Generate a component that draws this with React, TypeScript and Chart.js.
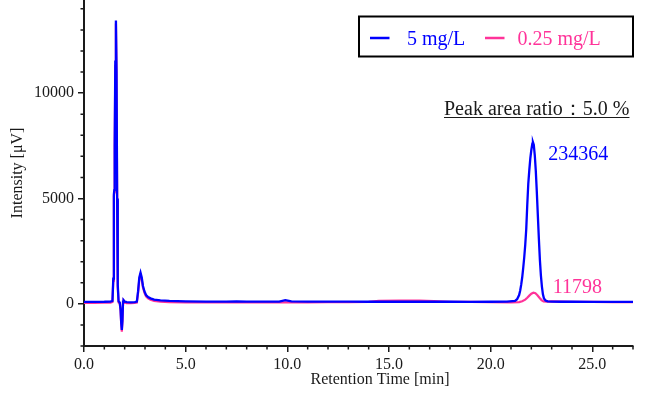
import React, { useEffect, useRef } from "react";
import { Chart, registerables } from "chart.js";

Chart.register(...registerables);

// ---- Data ----
const blueTimes = [0, 0.5, 1.0, 1.3, 1.40, 1.44, 1.47, 1.49, 1.51, 1.54, 1.57, 1.60, 1.63, 1.66, 1.70, 1.76, 1.80, 1.83, 1.86, 1.89, 1.92, 1.95, 2.00, 2.10, 2.30, 2.50, 2.60, 2.66, 2.72, 2.78, 2.84, 2.90, 2.97, 3.05, 3.15, 3.27, 3.45, 3.76, 4.2, 5.0, 6.0, 7.0, 7.5, 8.0, 9.0, 9.6, 9.9, 10.2, 11.0, 12.0, 13.0, 14.0, 15.0, 16.0, 17.0, 18.0, 19.0, 20.0, 20.8, 21.2, 21.3, 21.4, 21.45, 21.5, 21.55, 21.6, 21.65, 21.7, 21.75, 21.8, 21.85, 21.9, 21.95, 22.0, 22.05, 22.08, 22.12, 22.17, 22.22, 22.27, 22.32, 22.37, 22.42, 22.47, 22.52, 22.57, 22.62, 22.7, 22.8, 23.0, 23.5, 24.0, 25.0, 26.0, 27.0];
const blueValues = [90, 95, 100, 110, 140, 1200, 5200, 5400, 7500, 11500, 13450, 11000, 5000, 900, 120, 60, -300, -900, -1240, -800, 100, 170, 110, 80, 70, 85, 110, 600, 1250, 1480, 1250, 850, 600, 420, 320, 260, 200, 170, 140, 120, 110, 110, 120, 110, 105, 110, 180, 120, 110, 105, 105, 100, 100, 100, 100, 100, 95, 100, 105, 140, 220, 420, 620, 900, 1250, 1700, 2200, 2800, 3550, 4700, 5700, 6350, 6900, 7300, 7600, 7670, 7550, 7050, 6300, 5300, 4200, 3100, 2100, 1350, 820, 450, 260, 160, 120, 105, 100, 100, 95, 95, 90];

const pinkTimes = [0, 0.5, 1.0, 1.3, 1.40, 1.44, 1.47, 1.49, 1.51, 1.54, 1.57, 1.60, 1.63, 1.66, 1.70, 1.76, 1.80, 1.83, 1.86, 1.89, 1.92, 1.95, 2.00, 2.10, 2.30, 2.50, 2.60, 2.66, 2.72, 2.78, 2.84, 2.90, 2.97, 3.05, 3.15, 3.27, 3.45, 3.76, 4.2, 5.0, 6.0, 7.0, 8.0, 9.0, 10.0, 11.0, 12.0, 13.0, 14.0, 14.5, 15.5, 16.5, 17.2, 18.0, 19.0, 20.0, 21.0, 21.4, 21.55, 21.7, 21.8, 21.9, 22.0, 22.1, 22.2, 22.3, 22.4, 22.5, 22.6, 22.75, 23.0, 24.0, 25.0, 26.0, 27.0];
const pinkValues = [50, 50, 55, 60, 90, 1100, 5100, 5300, 7400, 11300, 13300, 10900, 4900, 800, 60, 0, -350, -950, -1320, -850, 50, 130, 60, 30, 30, 40, 60, 520, 1150, 1380, 1150, 780, 530, 360, 260, 200, 140, 110, 80, 70, 65, 65, 70, 70, 75, 75, 80, 80, 90, 140, 160, 160, 130, 100, 90, 80, 75, 85, 120, 200, 290, 390, 480, 530, 500, 410, 290, 180, 120, 110, 120, 100, 90, 85, 80];

const seriesLabels = ["5 mg/L", "0.25 mg/L"];
const xMajorTicks = [0, 5, 10, 15, 20, 25];
const yMajorTicks = [0, 5000, 10000];
const xMinorTicks = [1, 2, 3, 4, 6, 7, 8, 9, 11, 12, 13, 14, 16, 17, 18, 19, 21, 22, 23, 24, 26, 27];
const yMinorTicks = [-2000, -1000, 1000, 2000, 3000, 4000, 6000, 7000, 8000, 9000, 11000, 12000, 13000, 14000];

const peakAreaLabels = ["234364", "11798"];
const peakAreaAnchorTimes = [22.83, 23.05];
const peakAreaAnchorValues = [6830, 503];
const ratioText = "Peak area ratio：5.0 %";

const BLUE = "#0000ff";
const PINK = "#ff3399";
const INK = "#1a1a1a";
const FONT = "'Liberation Serif', 'Times New Roman', serif";

const overlayPlugin = {
  id: "overlay",
  afterDraw(chart: any) {
    const ctx = chart.ctx as CanvasRenderingContext2D;
    const xs = chart.scales.x;
    const ys = chart.scales.y;
    const area = chart.chartArea;
    ctx.save();
    // minor ticks
    ctx.strokeStyle = INK;
    ctx.lineWidth = 1.5;
    ctx.beginPath();
    xMinorTicks.forEach((t) => {
      const px = xs.getPixelForValue(t);
      ctx.moveTo(px, area.bottom);
      ctx.lineTo(px, area.bottom + 3.5);
    });
    yMinorTicks.forEach((v) => {
      const py = ys.getPixelForValue(v);
      ctx.moveTo(area.left, py);
      ctx.lineTo(area.left - 3.5, py);
    });
    ctx.stroke();

    // x title
    ctx.fillStyle = INK;
    ctx.font = `16px ${FONT}`;
    ctx.textAlign = "center";
    ctx.textBaseline = "middle";
    ctx.fillText("Retention Time [min]", 380, 380);

    // legend box
    ctx.lineWidth = 2;
    ctx.strokeStyle = "#000";
    ctx.strokeRect(359, 16.5, 274, 40);
    ctx.lineWidth = 2.5;
    ctx.strokeStyle = BLUE;
    ctx.beginPath();
    ctx.moveTo(370, 38);
    ctx.lineTo(389.5, 38);
    ctx.stroke();
    ctx.strokeStyle = PINK;
    ctx.beginPath();
    ctx.moveTo(485, 38);
    ctx.lineTo(504.5, 38);
    ctx.stroke();
    ctx.font = `20px ${FONT}`;
    ctx.textAlign = "left";
    ctx.textBaseline = "alphabetic";
    ctx.fillStyle = BLUE;
    ctx.fillText(seriesLabels[0], 407, 44.5);
    ctx.fillStyle = PINK;
    ctx.fillText(seriesLabels[1], 517.5, 44.5);

    // ratio text
    ctx.fillStyle = INK;
    ctx.fillText(ratioText, 444, 114.5);
    const w = ctx.measureText(ratioText).width;
    ctx.strokeStyle = INK;
    ctx.lineWidth = 1;
    ctx.beginPath();
    ctx.moveTo(444, 117.5);
    ctx.lineTo(444 + w, 117.5);
    ctx.stroke();

    // peak area annotations
    const colors = [BLUE, PINK];
    peakAreaLabels.forEach((lab, i) => {
      ctx.fillStyle = colors[i];
      ctx.fillText(lab, xs.getPixelForValue(peakAreaAnchorTimes[i]), ys.getPixelForValue(peakAreaAnchorValues[i]));
    });
    ctx.restore();
  },
};

export default function App() {
  const ref = useRef<HTMLCanvasElement>(null);
  useEffect(() => {
    if (!ref.current) return;
    Chart.defaults.font.family = FONT;
    Chart.defaults.color = INK;
    const bluePts = blueTimes.map((t, i) => ({ x: t, y: blueValues[i] }));
    const pinkPts = pinkTimes.map((t, i) => ({ x: t, y: pinkValues[i] }));
    const chart = new Chart(ref.current, {
      type: "line",
      data: {
        datasets: [
          { label: seriesLabels[0], data: bluePts, borderColor: BLUE, borderWidth: 2.3, pointRadius: 0, tension: 0, fill: false },
          { label: seriesLabels[1], data: pinkPts, borderColor: PINK, borderWidth: 2.2, pointRadius: 0, tension: 0, fill: false },
        ],
      },
      options: {
        responsive: false,
        animation: false,
        events: [],
        layout: { padding: { left: 0, right: 26, top: 0, bottom: 0 } },
        plugins: { legend: { display: false }, tooltip: { enabled: false } },
        scales: {
          x: {
            type: "linear",
            min: 0,
            max: 27,
            afterBuildTicks: (s: any) => {
              s.ticks = xMajorTicks.map((v) => ({ value: v }));
            },
            afterFit: (s: any) => {
              s.height = 52;
              s.paddingLeft = 0;
              s.paddingRight = 0;
            },
            ticks: {
              callback: (v: any) => Number(v).toFixed(1),
              font: { size: 16, family: FONT },
              color: INK,
              padding: 3,
              maxRotation: 0,
              autoSkip: false,
            },
            grid: { display: true, drawOnChartArea: false, drawTicks: true, tickLength: 6, color: INK, lineWidth: 1.5 },
            border: { display: true, color: INK, width: 2 },
            title: { display: false },
          },
          y: {
            type: "linear",
            min: -2000,
            max: 14420,
            afterBuildTicks: (s: any) => {
              s.ticks = yMajorTicks.map((v) => ({ value: v }));
            },
            afterFit: (s: any) => {
              s.width = 84;
              s.paddingTop = 0;
              s.paddingBottom = 0;
            },
            ticks: {
              callback: (v: any) => String(v),
              font: { size: 16, family: FONT },
              color: INK,
              padding: 4,
              autoSkip: false,
            },
            grid: { display: true, drawOnChartArea: false, drawTicks: true, tickLength: 6, color: INK, lineWidth: 1.5 },
            border: { display: true, color: INK, width: 2 },
            title: {
              display: true,
              text: "Intensity [μV]",
              font: { size: 16, family: FONT },
              color: INK,
              padding: { top: 8, bottom: 0 },
            },
          },
        },
      },
      plugins: [overlayPlugin],
    });
    return () => chart.destroy();
  }, []);
  return (
    <canvas
      ref={ref}
      width={659}
      height={398}
      style={{ position: "fixed", left: 0, top: 0, width: 659, height: 398, display: "block" }}
    />
  );
}
